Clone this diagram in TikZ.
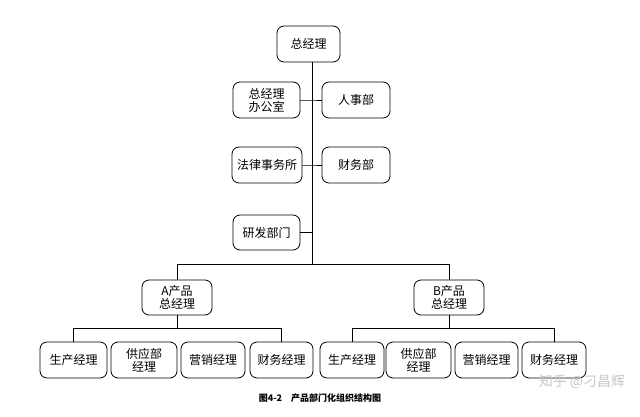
\documentclass[tikz,border=0pt]{standalone}
\usepackage{fontspec}
\setmainfont{Noto Sans CJK SC}
\begin{document}
\begin{tikzpicture}[x=1pt,y=-1pt,
  bx/.style={draw,line width=0.8pt,rounded corners=7pt,inner sep=0pt,font=\fontsize{12}{13}\selectfont,align=center},
  ln/.style={line width=0.8pt}]
\useasboundingbox (0,0) rectangle (640,417);
\node[bx,minimum width=63pt,minimum height=36pt] (gm) at (308.5,44) {总经理};
\node[bx,minimum width=67pt,minimum height=36pt] (ofc) at (266.5,100) {总经理\\办公室};
\node[bx,minimum width=68pt,minimum height=36pt] (hr) at (356,100) {人事部};
\node[bx,minimum width=70pt,minimum height=36pt] (law) at (267,165) {法律事务所};
\node[bx,minimum width=68pt,minimum height=36pt] (fin) at (356,165) {财务部};
\node[bx,minimum width=67pt,minimum height=35pt] (rd) at (266.5,232.5) {研发部门};
\node[bx,minimum width=70pt,minimum height=35pt] (A) at (177,297.5) {A产品\\总经理};
\node[bx,minimum width=70pt,minimum height=35pt] (B) at (449,297.5) {B产品\\总经理};
\coordinate (bar) at (312,264);
\draw[ln] (gm.south -| bar) -- (bar);
\draw[ln] (ofc.east) -- (ofc.east -| bar) -- (hr.west);
\draw[ln] (law.east) -- (law.east -| bar) -- (fin.west);
\draw[ln] (rd.east) -- (rd.east -| bar);
\draw[ln] (A.north) -- (A.north |- bar) -- (B.north |- bar) -- (B.north);
\foreach \n/\x/\w/\t in {a1/73.5/67/生产经理, a2/144/66/供应部\\经理, a3/213/64/营销经理, a4/281.5/63/财务经理,
  b1/352/64/生产经理, b2/418.5/65/供应部\\经理, b3/486.5/63/营销经理, b4/554/64/财务经理}{
  \node[bx,minimum width=\w pt,minimum height=36pt] (\n) at (\x,360) {\t};
}
\coordinate (ba) at (177,328);
\draw[ln] (A.south) -- (ba);
\draw[ln] (a1.north) -- (a1.north |- ba) -- (a4.north |- ba) -- (a4.north);
\coordinate (bb) at (449,328);
\draw[ln] (B.south) -- (bb);
\draw[ln] (b1.north) -- (b1.north |- bb) -- (b4.north |- bb) -- (b4.north);
\node[font=\fontsize{9}{10}\selectfont\bfseries] (cap) at (320,398) {图4-2\quad 产品部门化组织结构图};
\node[font=\fontsize{14}{15}\selectfont,text=black!22] (wm) at (582,382) {知乎 @刁昌辉};
\end{tikzpicture}
\end{document}
